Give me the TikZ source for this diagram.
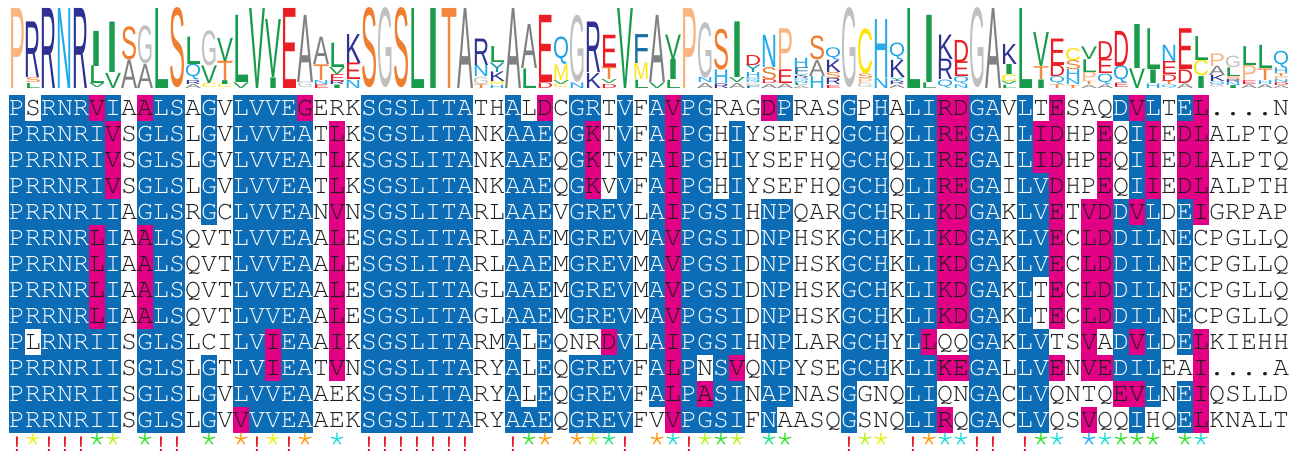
\documentclass[tikz,border=0pt]{standalone}
\usepackage{fontspec}
\usepackage{graphicx}
\newfontfamily\seqfont{TeX Gyre Cursor}
\newfontfamily\logofont{Liberation Sans}
\definecolor{cB}{RGB}{12,108,182}
\definecolor{cM}{RGB}{226,0,133}
\definecolor{txtdark}{RGB}{30,30,30}
% logo colours
\definecolor{lgA}{RGB}{128,128,128}
\definecolor{lgC}{RGB}{255,228,0}
\definecolor{lgD}{RGB}{235,30,38}
\definecolor{lgE}{RGB}{235,30,38}
\definecolor{lgF}{RGB}{22,110,165}
\definecolor{lgG}{RGB}{192,192,192}
\definecolor{lgH}{RGB}{40,170,230}
\definecolor{lgI}{RGB}{24,155,74}
\definecolor{lgK}{RGB}{46,49,146}
\definecolor{lgL}{RGB}{24,155,74}
\definecolor{lgM}{RGB}{250,230,20}
\definecolor{lgN}{RGB}{28,170,235}
\definecolor{lgP}{RGB}{250,180,125}
\definecolor{lgQ}{RGB}{30,165,230}
\definecolor{lgR}{RGB}{46,49,146}
\definecolor{lgS}{RGB}{240,125,45}
\definecolor{lgT}{RGB}{245,135,60}
\definecolor{lgV}{RGB}{24,155,74}
\definecolor{lgW}{RGB}{24,155,74}
\definecolor{lgY}{RGB}{20,155,160}
% conservation symbol colours
\definecolor{kR}{RGB}{232,20,30}
\definecolor{kY}{RGB}{232,240,0}
\definecolor{kYG}{RGB}{185,240,20}
\definecolor{kG}{RGB}{50,225,40}
\definecolor{kGC}{RGB}{20,230,120}
\definecolor{kC}{RGB}{20,220,210}
\definecolor{kB}{RGB}{30,170,250}
\definecolor{kO}{RGB}{255,150,0}
\tikzset{
  alntxt/.style={anchor=base,inner sep=0pt,outer sep=0pt,font=\seqfont\fontsize{26.6}{26.6}\selectfont},
  bangtxt/.style={anchor=base,inner sep=0pt,outer sep=0pt,font=\logofont\fontsize{21}{21}\selectfont},
  startxt/.style={anchor=center,inner sep=0pt,outer sep=0pt,font=\seqfont\fontsize{34}{34}\selectfont},
  logotxt/.style={inner sep=0pt,outer sep=0pt,anchor=south}
}
\newcommand\alncell[5]{%
  \fill[#3] ({9+16*(#1-1)-0.25},{95+26*(#2-1)-0.25}) rectangle ++(16.5,26.5);%
  \node[alntxt,text=#4] at ({9+16*(#1-1)+8},{95+26*(#2-1)+20.6}) {#5};}
\newcommand\alntext[4]{%
  \node[alntxt,text=#3] at ({9+16*(#1-1)+8},{95+26*(#2-1)+20.6}) {#4};}
\newcommand\logoletter[4]{%
  \node[logotxt,text=lg#4] at ({9+16*(#1-1)+8},#2) {\resizebox*{16pt}{#3pt}{\logofont #4}};}

\ExplSyntaxOn
\seq_new:N \g_aln_seq
\seq_new:N \g_alncode_seq
\seq_gset_from_clist:Nn \g_aln_seq
  {
    PSRNRVIAALSAGVLVVEGERKSGSLITATHALDCGRTVFAVPGRAGDPRASGPHALIRDGAVLTESAQDVLTEL....N,
    PRRNRIVSGLSLGVLVVEATLKSGSLITANKAAEQGKTVFAIPGHIYSEFHQGCHQLIREGAILIDHPEQIIEDLALPTQ,
    PRRNRIVSGLSLGVLVVEATLKSGSLITANKAAEQGKTVFAIPGHIYSEFHQGCHQLIREGAILIDHPEQIIEDLALPTQ,
    PRRNRIVSGLSLGVLVVEATLKSGSLITANKAAEQGKVVFAIPGHIYSEFHQGCHQLIREGAILVDHPEQIIEDLALPTH,
    PRRNRIIAGLSRGCLVVEANVNSGSLITARLAAEVGREVLAIPGSIHNPQARGCHRLIKDGAKLVETVDDVLDEIGRPAP,
    PRRNRLIAALSQVTLVVEAALESGSLITARLAAEMGREVMAVPGSIDNPHSKGCHKLIKDGAKLVECLDDILNECPGLLQ,
    PRRNRLIAALSQVTLVVEAALESGSLITARLAAEMGREVMAVPGSIDNPHSKGCHKLIKDGAKLVECLDDILNECPGLLQ,
    PRRNRLIAALSQVTLVVEAALESGSLITAGLAAEMGREVMAVPGSIDNPHSKGCHKLIKDGAKLTECLDDILNECPGLLQ,
    PRRNRLIAALSQVTLVVEAALESGSLITAGLAAEMGREVMAVPGSIDNPHSKGCHKLIKDGAKLTECLDDILNECPGLLQ,
    PLRNRIISGLSLCILVIEAAIKSGSLITARMALEQNRDVLAIPGSIHNPLARGCHYLLQQGAKLVTSVADVLDELKIEHH,
    PRRNRIISGLSLGTLVIEATVNSGSLITARYALEQGREVFALPNSVQNPYSEGCHKLIKEGALLVENVEDILEAI....A,
    PRRNRIISGLSLGVLVVEAAEKSGSLITARYALEQGREVFALPASINAPNASGGNQLIQNGACLVQNTQEVLNEIQSLLD,
    PRRNRIISGLSLGVVVVEAAEKSGSLITARYAAEQGREVFVVPGSIFNAASQGSNQLIRQGACLVQSVQQIHQELKNALT
  }
\seq_gset_from_clist:Nn \g_alncode_seq
  {
    BWBBBMBWMB BWBWBBBBMW WWBBBBBBBW WBWMWBBWBW BMBBWWWMBW WWBWBWBBMM BBWBWMWWWB MBWBMWWWWW,
    BBBBBBMWBB BWBWBBBBBW MWBBBBBBBW WBBBWBMWBW BMBBWBWWWW WWBBBWBBMM BBWBMMWWMW BMWMMWWWWW,
    BBBBBBMWBB BWBWBBBBBW MWBBBBBBBW WBBBWBMWBW BMBBWBWWWW WWBBBWBBMM BBWBMMWWMW BMWMMWWWWW,
    BBBBBBMWBB BWBWBBBBBW MWBBBBBBBW WBBBWBMWBW BMBBWBWWWW WWBBBWBBMM BBWBBMWWMW BMWMMWWWWW,
    BBBBBBBWBB BWBWBBBBBW MWBBBBBBBW WBBBWBBBBW BMBBBBWBBW WWBBBWBBMM BBWBBMWMMB MBWBMWWWWW,
    BBBBBMBWMB BWWWBBBBBW MWBBBBBBBW WBBBWBBBBW BMBBBBWBBW WWBBBWBBMM BBWBBMWMMB BBWBWWWWWW,
    BBBBBMBWMB BWWWBBBBBW MWBBBBBBBW WBBBWBBBBW BMBBBBWBBW WWBBBWBBMM BBWBBMWMMB BBWBWWWWWW,
    BBBBBMBWMB BWWWBBBBBW MWBBBBBBBW WBBBWBBBBW BMBBBBWBBW WWBBBWBBMM BBWBWMWMMB BBWBWWWWWW,
    BBBBBMBWMB BWWWBBBBBW MWBBBBBBBW WBBBWBBBBW BMBBBBWBBW WWBBBWBBMM BBWBWMWMMB BBWBWWWWWW,
    BWBBBBBWBB BWWWBBMBBW MWBBBBBBBW WBWBWWWMBW BMBBBBWBBW WWBBBWBMWW BBWBBWWMWB MBWBMWWWWW,
    BBBBBBBWBB BWBWBBMBBW MWBBBBBBBW WBWBWBBBBW BMBWBMWBBW WWBBBWBBMM BBWBBMWMMB BBWWMWWWWW,
    BBBBBBBWBB BWBWBBBBBW WWBBBBBBBW WBWBWBBBBW BMBMBBWBBW WWBWWWBBWW BBWBBWWWWM MBWBMWWWWW,
    BBBBBBBWBB BWBWMBBBBW WWBBBBBBBW WBBBWBBBBW WMBBBBWBWW WWBWWWBBMW BBWBBWWMWW BWWBMWWWWW
  }
\str_new:N \l_aln_row_str
\str_new:N \l_aln_code_str
\str_new:N \l_aln_c_str
\str_new:N \l_aln_ch_str
\cs_generate_variant:Nn \str_if_eq:nnTF {Vn}
\cs_new_protected:Npn \aln_draw:
  {
    \int_step_inline:nn {13}
      {
        \str_set:Nx \l_aln_row_str { \seq_item:Nn \g_aln_seq {##1} }
        \str_set:Nx \l_aln_code_str { \seq_item:Nn \g_alncode_seq {##1} }
        \int_step_inline:nn {80}
          {
            \str_set:Nx \l_aln_c_str { \str_item:Nn \l_aln_code_str {####1} }
            \str_set:Nx \l_aln_ch_str { \str_item:Nn \l_aln_row_str {####1} }
            \str_if_eq:VnTF \l_aln_c_str {B}
              { \use:x { \exp_not:N \alncell {####1} {##1} {cB} {white} {\l_aln_ch_str} } }
              {
                \str_if_eq:VnTF \l_aln_c_str {M}
                  { \use:x { \exp_not:N \alncell {####1} {##1} {cM} {txtdark} {\l_aln_ch_str} } }
                  { \use:x { \exp_not:N \alntext {####1} {##1} {txtdark} {\l_aln_ch_str} } }
              }
          }
      }
  }
\clist_const:Nn \c_logo_aa_clist {A,C,D,E,F,G,H,I,K,L,M,N,P,Q,R,S,T,V,W,Y}
\str_new:N \l_logo_col_str
\int_new:N \l_logo_n_int
\int_new:N \l_logo_k_int
\seq_new:N \l_logo_items_seq
\fp_new:N \l_logo_H_fp
\fp_new:N \l_logo_tot_fp
\fp_new:N \l_logo_y_fp
\fp_new:N \l_logo_h_fp
\cs_new_protected:Npn \logo_column:n #1
  {
    \str_clear:N \l_logo_col_str
    \seq_map_inline:Nn \g_aln_seq
      { \str_put_right:Nx \l_logo_col_str { \str_item:nn {##1} {#1} } }
    \int_zero:N \l_logo_n_int
    \str_map_inline:Nn \l_logo_col_str
      { \str_if_eq:nnF {##1} {.} { \int_incr:N \l_logo_n_int } }
    \seq_clear:N \l_logo_items_seq
    \clist_map_inline:Nn \c_logo_aa_clist
      {
        \int_zero:N \l_logo_k_int
        \str_map_inline:Nn \l_logo_col_str
          { \str_if_eq:nnT {####1} {##1} { \int_incr:N \l_logo_k_int } }
        \int_compare:nNnT \l_logo_k_int > 0
          { \seq_put_right:Nx \l_logo_items_seq { { \int_use:N \l_logo_k_int } {##1} } }
      }
    \seq_sort:Nn \l_logo_items_seq
      {
        \int_compare:nNnTF { \use_i:nn ##1 } > { \use_i:nn ##2 }
          { \sort_return_swapped: } { \sort_return_same: }
      }
    \fp_zero:N \l_logo_H_fp
    \seq_map_inline:Nn \l_logo_items_seq
      {
        \fp_sub:Nn \l_logo_H_fp
          { ( \use_i:nn ##1 / \l_logo_n_int ) * ln ( \use_i:nn ##1 / \l_logo_n_int ) / ln(2) }
      }
    \fp_set:Nn \l_logo_tot_fp
      { 80 * ( 1 - \l_logo_H_fp / ( ln(20) / ln(2) ) ) * \l_logo_n_int / 13 }
    \fp_set:Nn \l_logo_y_fp { 88 }
    \seq_map_inline:Nn \l_logo_items_seq
      {
        \fp_set:Nn \l_logo_h_fp { \use_i:nn ##1 / \l_logo_n_int * \l_logo_tot_fp }
        \use:x
          {
            \exp_not:N \logoletter {#1}
              { \fp_eval:n { round ( \l_logo_y_fp , 3 ) } }
              { \fp_eval:n { round ( \l_logo_h_fp , 3 ) } }
              { \use_ii:nn ##1 }
          }
        \fp_sub:Nn \l_logo_y_fp { \l_logo_h_fp }
      }
  }
\cs_new_protected:Npn \logo_all:
  { \int_step_inline:nn {80} { \logo_column:n {##1} } }
\cs_set_eq:NN \drawalignment \aln_draw:
\cs_set_eq:NN \drawlogo \logo_all:
\ExplSyntaxOff

\begin{document}
\begin{tikzpicture}[x=1pt,y=-1pt]
\useasboundingbox (0,0) rectangle (1294,455);
\fill[white] (0,0) rectangle (1294,455);
\drawlogo
\drawalignment
\foreach \c in {1,3,4,5,10,11,16,18,23,24,25,26,27,28,29,32,39,43,53,57,61,62,64}
  \node[bangtxt,text=kR] at ({9+16*(\c-1)+8},451) {!};
\foreach \c/\k in {2/kY,6/kG,7/kYG,9/kG,13/kG,15/kO,17/kY,19/kO,21/kC,33/kG,34/kO,36/kO,37/kYG,38/kGC,41/kO,42/kC,44/kYG,45/kG,46/kYG,48/kGC,49/kG,54/kYG,55/kY,58/kO,59/kC,60/kC,65/kG,66/kC,68/kB,69/kC,70/kG,71/kG,72/kG,74/kG,75/kC}
  \node[startxt,text=\k] at ({9+16*(\c-1)+8},443) {*};
\end{tikzpicture}
\end{document}
